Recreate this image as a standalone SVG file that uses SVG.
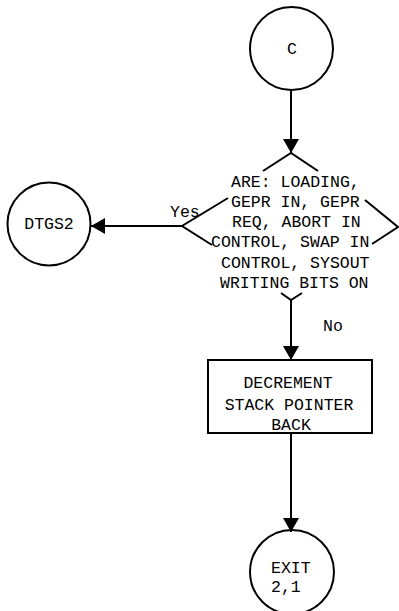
<svg xmlns="http://www.w3.org/2000/svg" width="399" height="611" viewBox="0 0 399 611">
<defs>
<marker id="arr" viewBox="0 0 14 16" refX="14" refY="8" markerWidth="14" markerHeight="16" orient="auto" markerUnits="userSpaceOnUse">
<path d="M0,0 L14,8 L0,16 z" fill="#000"/>
</marker>
</defs>
<style>
.s{fill:none;stroke:#000;stroke-width:2}
.t{font-family:"Liberation Mono","Courier New",monospace;font-size:16.5px;fill:#000}
.m{text-anchor:middle}
.c{stroke:#000;stroke-width:2;fill:none;marker-end:url(#arr)}
</style>
<rect width="399" height="611" fill="#fff"/>
<g id="connectors">
<line class="c" x1="291" y1="90" x2="291" y2="153"/>
<line class="c" x1="182" y1="226" x2="91" y2="226"/>
<line class="c" x1="291" y1="300" x2="291" y2="360"/>
<line class="c" x1="291" y1="433" x2="291" y2="532"/>
<text class="t" x="170" y="217">Yes</text>
<text class="t" x="323" y="331">No</text>
</g>
<g id="node-c">
<circle class="s" cx="291.5" cy="48.5" r="41.5"/>
<text class="t m" x="292" y="54">C</text>
</g>
<g id="node-decision">
<path class="s" d="M263,171 L291,153 L318,171 M228,198 L182,226 L212,245 M365,200 L398,227 L372,244 M281,293 L291,300 L302,293"/>
<text class="t" x="231" y="187">ARE: LOADING,</text>
<text class="t" x="231" y="207">GEPR IN, GEPR</text>
<text class="t" x="232" y="227">REQ, ABORT IN</text>
<text class="t" x="211" y="247">CONTROL, SWAP IN</text>
<text class="t" x="221" y="268">CONTROL, SYSOUT</text>
<text class="t" x="220" y="288">WRITING BITS ON</text>
</g>
<g id="node-dtgs2">
<circle class="s" cx="49" cy="224" r="41.5"/>
<text class="t m" x="49" y="229">DTGS2</text>
</g>
<g id="node-decrement">
<rect class="s" x="208" y="360" width="164" height="73"/>
<text class="t m" x="288" y="388">DECREMENT</text>
<text class="t m" x="289" y="410">STACK POINTER</text>
<text class="t m" x="291" y="430">BACK</text>
</g>
<g id="node-exit">
<circle class="s" cx="292" cy="572" r="42"/>
<text class="t" x="271" y="573">EXIT</text>
<text class="t" x="271" y="592">2,1</text>
</g>
</svg>
